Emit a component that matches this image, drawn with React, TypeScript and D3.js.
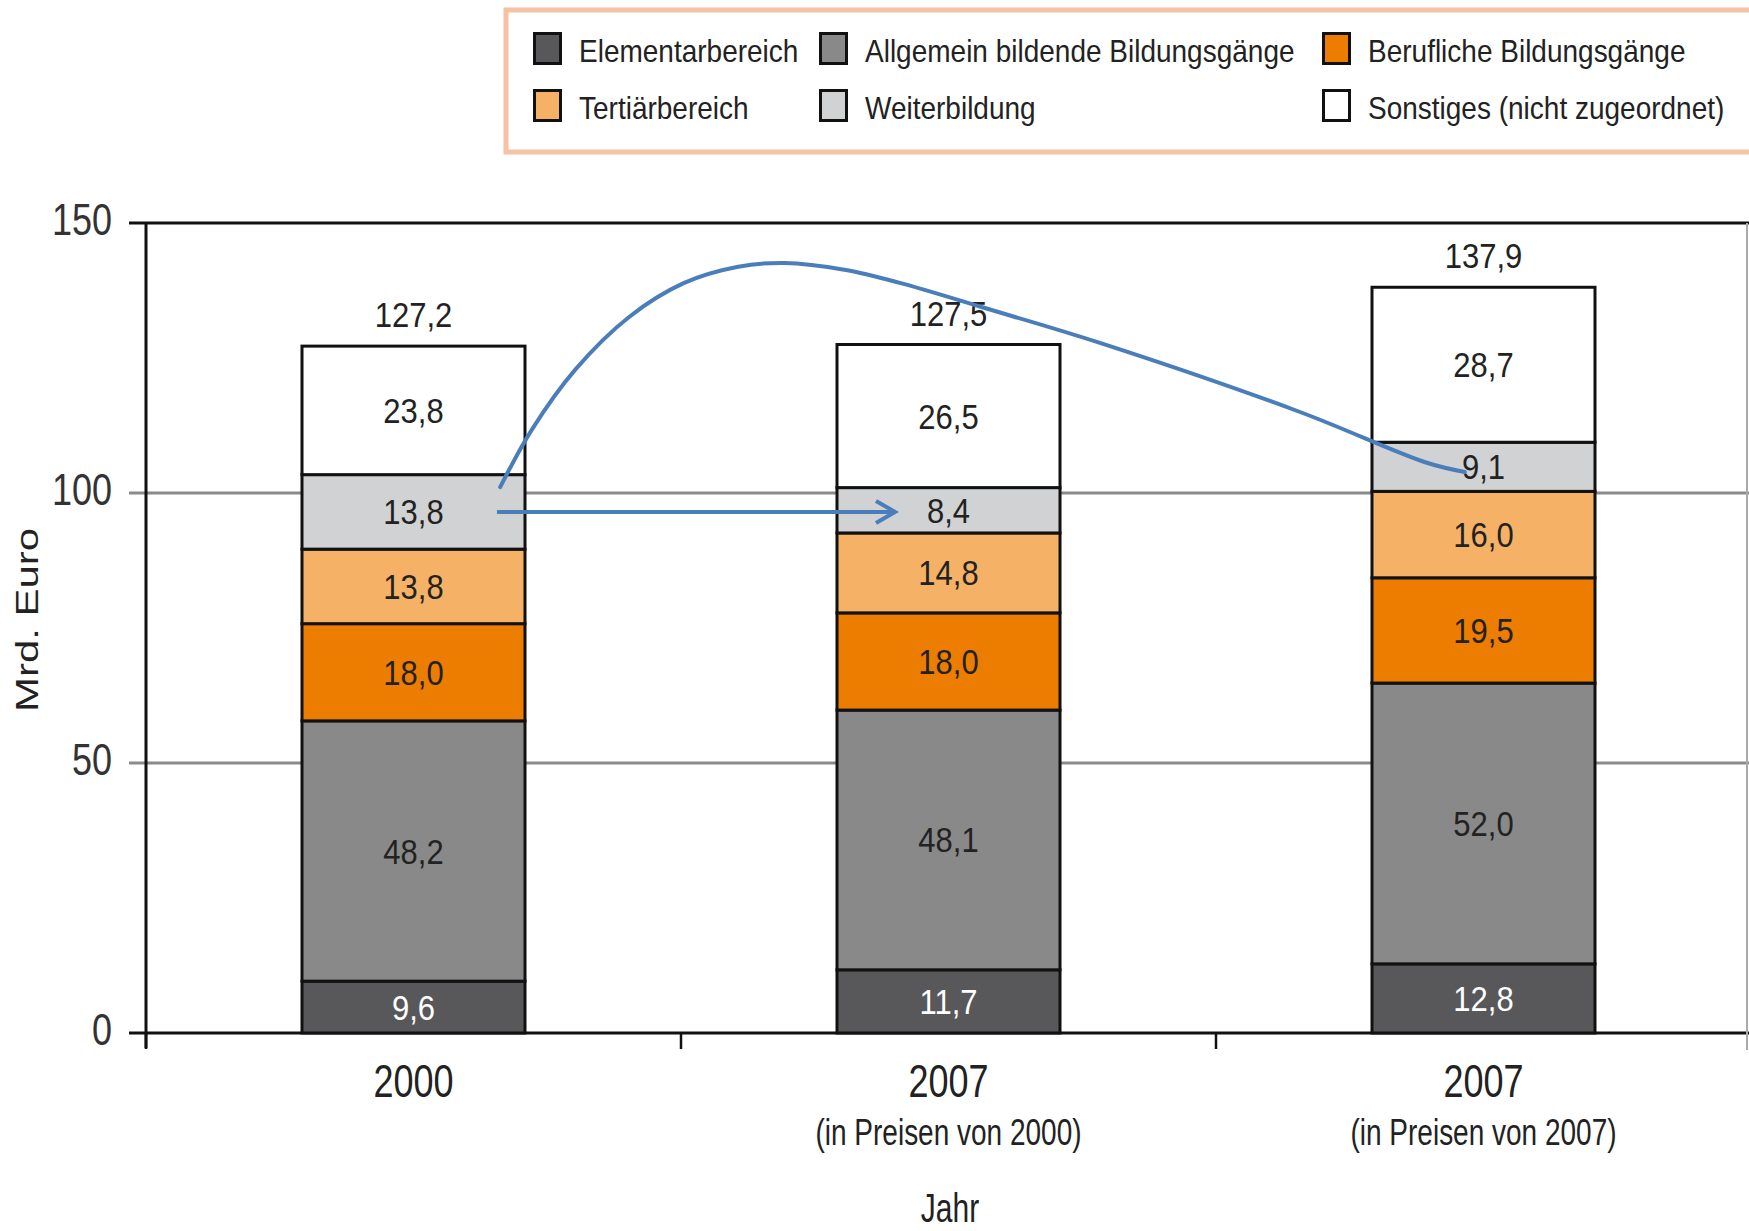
import React from "react";
import * as d3 from "d3";

const categories = ["2000", "2007", "2007"];
const subLabels = ["", "(in Preisen von 2000)", "(in Preisen von 2007)"];
const seriesNames = [
  "Elementarbereich",
  "Allgemein bildende Bildungsgänge",
  "Berufliche Bildungsgänge",
  "Tertiärbereich",
  "Weiterbildung",
  "Sonstiges (nicht zugeordnet)",
];
const elementar = [9.6, 11.7, 12.8];
const allgemein = [48.2, 48.1, 52.0];
const beruflich = [18.0, 18.0, 19.5];
const tertiaer = [13.8, 14.8, 16.0];
const weiterbildung = [13.8, 8.4, 9.1];
const sonstiges = [23.8, 26.5, 28.7];
const totals = [127.2, 127.5, 137.9];
const yTicks = [0, 50, 100, 150];
const colors = ["#58585a", "#898989", "#ec7d00", "#f5b266", "#d1d2d4", "#ffffff"];
const labelColors = ["#ffffff", "#222222", "#222222", "#222222", "#222222", "#222222"];

// annotation arrows in data space: [band offset from first bar centre (in steps), value]
const straightArrow: [number, number][] = [
  [0.156, 96.5],
  [0.9, 96.5],
];
const curveArrow: [number, number][] = [
  [0.162, 101.1],
  [0.221, 111.7],
  [0.302, 122.8],
  [0.403, 132.6],
  [0.506, 138.9],
  [0.607, 141.9],
  [0.693, 142.6],
  [0.808, 141.3],
  [0.909, 138.9],
  [1.063, 134.4],
  [1.283, 127.8],
  [1.657, 115.0],
  [1.894, 105.6],
  [1.965, 103.9],
];

const W = 1749;
const H = 1231;
const FONT = "'Liberation Sans', Arial, Helvetica, sans-serif";

const fmt = (v: number) => d3.format(".1f")(v).replace(".", ",");

function T({ x, y, sy = 1, size, anchor = "middle", fill = "#222", rotate = 0, children }: any) {
  return (
    <text
      transform={`translate(${x},${y}) scale(1,${sy})${rotate ? ` rotate(${rotate})` : ""}`}
      fontSize={size}
      fontFamily={FONT}
      textAnchor={anchor}
      fill={fill}
    >
      {children}
    </text>
  );
}

export default function App() {
  const keys = seriesNames;
  const table = categories.map((c, i) => {
    const row: any = { idx: i };
    [elementar, allgemein, beruflich, tertiaer, weiterbildung, sonstiges].forEach((arr, k) => {
      row[keys[k]] = arr[i];
    });
    return row;
  });
  const stacked = d3.stack<any>().keys(keys)(table);

  const x = d3.scaleBand<number>().domain([0, 1, 2]).range([146, 1751]).padding(0);
  const y = d3.scaleLinear().domain([0, 150]).range([1033, 223]);
  const step = x.step();
  const barW = 223;
  const cx = (i: number) => (x(i) as number) + x.bandwidth() / 2;
  const ax = (f: number) => cx(0) + f * step;

  const curvePath = d3
    .line<[number, number]>()
    .x((d) => ax(d[0]))
    .y((d) => y(d[1]))
    .curve(d3.curveCatmullRom)(curveArrow) as string;

  const sx0 = ax(straightArrow[0][0]);
  const sx1 = ax(straightArrow[1][0]);
  const sy = y(straightArrow[0][1]);

  const legendCols = [533, 819, 1322];
  const legendRows = [32, 89];

  return (
    <svg width={W} height={H} style={{ position: "absolute", left: 0, top: 0, background: "#fff" }}>
      {/* legend */}
      <rect x={506} y={10} width={1300} height={142} fill="#fff" stroke="#f6c2a3" strokeWidth={5} />
      {seriesNames.map((name, i) => {
        const lx = legendCols[i % 3];
        const ly = legendRows[Math.floor(i / 3)];
        return (
          <g key={name}>
            <rect x={lx + 1.5} y={ly + 1.5} width={26} height={30} fill={colors[i]} stroke="#111" strokeWidth={3} />
            <T x={lx + 46} y={ly + 30} sy={1.12} size={28} anchor="start">
              {name}
            </T>
          </g>
        );
      })}

      {/* grid lines */}
      {yTicks.map((t) => (
        <line
          key={t}
          x1={129}
          x2={W}
          y1={y(t)}
          y2={y(t)}
          stroke={t === 0 || t === 150 ? "#111" : "#8a8a8a"}
          strokeWidth={3}
        />
      ))}
      <line x1={1747} x2={1747} y1={y(150)} y2={1050} stroke="#aaa" strokeWidth={2} />

      {/* bars */}
      {stacked.map((s, k) =>
        s.map((d, i) => (
          <rect
            key={`${k}-${i}`}
            x={cx(i) - barW / 2}
            y={y(d[1])}
            width={barW}
            height={y(d[0]) - y(d[1])}
            fill={colors[k]}
            stroke="#111"
            strokeWidth={3}
          />
        ))
      )}
      {stacked.map((s, k) =>
        s.map((d, i) => (
          <T
            key={`l${k}-${i}`}
            x={cx(i)}
            y={(y(d[0]) + y(d[1])) / 2 + 12.5}
            sy={1.13}
            size={31}
            fill={labelColors[k]}
          >
            {fmt(d[1] - d[0])}
          </T>
        ))
      )}
      {totals.map((t, i) => (
        <T key={`t${i}`} x={cx(i)} y={y(stacked[stacked.length - 1][i][1]) - 19} sy={1.13} size={31}>
          {fmt(t)}
        </T>
      ))}

      {/* y axis */}
      <line x1={146} x2={146} y1={y(150)} y2={1048} stroke="#111" strokeWidth={3} />
      {yTicks.map((t) => (
        <T key={`yt${t}`} x={112} y={y(t) + 12} sy={1.25} size={36} anchor="end" fill="#333">
          {t}
        </T>
      ))}
      <T x={38} y={620} sy={1.31} size={32} rotate={-90} fill="#222">
        Mrd. Euro
      </T>

      {/* x axis */}
      {[0, 1, 2].map((i) => (
        <line key={`xt${i}`} x1={x(i)} x2={x(i)} y1={y(0)} y2={1049} stroke="#111" strokeWidth={2.5} />
      ))}
      {categories.map((c, i) => (
        <g key={`xl${i}`}>
          <T x={cx(i)} y={1097} sy={1.3} size={36} fill="#222">
            {c}
          </T>
          {subLabels[i] && (
            <T x={cx(i)} y={1145} sy={1.35} size={28} fill="#222">
              {subLabels[i]}
            </T>
          )}
        </g>
      ))}
      <T x={950} y={1222} sy={1.35} size={30} fill="#222">
        Jahr
      </T>

      {/* annotation arrows */}
      <path d={curvePath} fill="none" stroke="#4a7ebb" strokeWidth={4} strokeLinecap="round" />
      <line x1={sx0} x2={sx1} y1={sy} y2={sy} stroke="#4a7ebb" strokeWidth={4} />
      <path
        d={`M${sx1 - 19},${sy - 11} L${sx1},${sy} L${sx1 - 19},${sy + 11}`}
        fill="none"
        stroke="#4a7ebb"
        strokeWidth={4}
        strokeLinejoin="miter"
      />
    </svg>
  );
}
